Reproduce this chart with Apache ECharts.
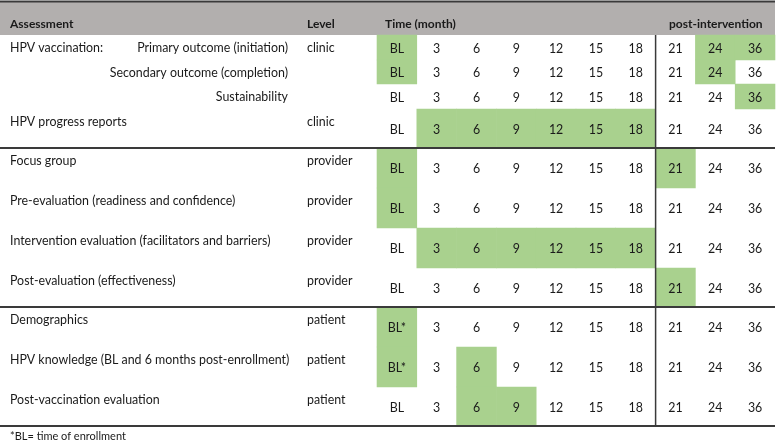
<!DOCTYPE html>
<html>
<head>
<meta charset="utf-8">
<script src="https://cdn.jsdelivr.net/npm/echarts@6/dist/echarts.min.js"></script>
<style>html,body{margin:0;padding:0;background:#fff}#c{width:777px;height:443px}</style>
</head>
<body>
<div id="c"></div>
<script>
// ---- data ----
const timepoints = ['BL', '3', '6', '9', '12', '15', '18', '21', '24', '36'];
const rowNames = ['HPV vaccination:', '', '', 'HPV progress reports', 'Focus group',
  'Pre-evaluation (readiness and confidence)', 'Intervention evaluation (facilitators and barriers)',
  'Post-evaluation (effectiveness)', 'Demographics', 'HPV knowledge (BL and 6 months post-enrollment)',
  'Post-vaccination evaluation'];
const rowSubNames = ['Primary outcome (initiation)', 'Secondary outcome (completion)', 'Sustainability',
  '', '', '', '', '', '', '', ''];
const rowLevels = ['clinic', '', '', 'clinic', 'provider', 'provider', 'provider', 'provider',
  'patient', 'patient', 'patient'];
const blLabels = ['BL', 'BL', 'BL', 'BL', 'BL', 'BL', 'BL', 'BL', 'BL*', 'BL*', 'BL'];
const activity = [
  [1, 0, 0, 0, 0, 0, 0, 0, 1, 1],
  [1, 0, 0, 0, 0, 0, 0, 0, 1, 0],
  [0, 0, 0, 0, 0, 0, 0, 0, 0, 1],
  [0, 1, 1, 1, 1, 1, 1, 0, 0, 0],
  [1, 0, 0, 0, 0, 0, 0, 1, 0, 0],
  [1, 0, 0, 0, 0, 0, 0, 0, 0, 0],
  [0, 1, 1, 1, 1, 1, 1, 0, 0, 0],
  [0, 0, 0, 0, 0, 0, 0, 1, 0, 0],
  [1, 0, 0, 0, 0, 0, 0, 0, 0, 0],
  [1, 0, 1, 0, 0, 0, 0, 0, 0, 0],
  [0, 0, 1, 1, 0, 0, 0, 0, 0, 0]
];
const groupEnds = [3, 7, 10];
const headers = ['Assessment', 'Level', 'Time (month)', 'post-intervention'];
const footnote = '*BL= time of enrollment';

// ---- layout ----
const rowHeights = [25, 24, 25, 39, 40, 40, 40, 39, 40, 40, 39];
const rowTops = [];
let acc = 0;
rowHeights.forEach(h => { rowTops.push(acc); acc += h; });
const totalH = acc;
const FONT = 'Lato';
const TXT = '#1a1a1a';
const GREEN = '#a9d18e';
const LINE = '#3a3a3a';
const BODY = '12.4px ' + FONT;

const cellData = [];
activity.forEach((r, ri) => r.forEach((v, ci) => cellData.push([ci, ri, v])));
const rowData = rowNames.map((n, i) => [0, i]);

const chart = echarts.init(document.getElementById('c'), null, {renderer: 'canvas'});
chart.setOption({
  animation: false,
  backgroundColor: '#fff',
  grid: {left: 377, right: 2, top: 35, height: totalH},
  xAxis: {type: 'category', data: timepoints, show: false, boundaryGap: true},
  yAxis: {type: 'value', min: 0, max: totalH, inverse: true, show: false},
  graphic: [
    {type: 'rect', shape: {x: 0, y: 2, width: 775, height: 33}, style: {fill: '#b2afae'}, z: 0},
    {type: 'line', shape: {x1: 0, y1: 1.5, x2: 775, y2: 1.5}, style: {stroke: LINE, lineWidth: 2}},
    {type: 'text', x: 10, y: 24, style: {text: headers[0], font: 'bold 12px ' + FONT, fill: TXT, verticalAlign: 'middle'}},
    {type: 'text', x: 307, y: 24, style: {text: headers[1], font: 'bold 12px ' + FONT, fill: TXT, verticalAlign: 'middle'}},
    {type: 'text', x: 385, y: 24, style: {text: headers[2], font: 'bold 12px ' + FONT, fill: TXT, verticalAlign: 'middle'}},
    {type: 'text', x: 669, y: 24, style: {text: headers[3], font: 'bold 12px ' + FONT, fill: TXT, verticalAlign: 'middle'}},
    {type: 'text', x: 10, y: 436, style: {text: footnote, font: '11px ' + FONT, fill: TXT, verticalAlign: 'middle'}}
  ],
  series: [
    {
      type: 'custom',
      clip: false,
      data: cellData,
      renderItem: function (params, api) {
        const ci = api.value(0), ri = api.value(1), on = api.value(2);
        const bw = api.size([1, 0])[0];
        const cx = api.coord([ci, 0])[0];
        const y0 = api.coord([ci, rowTops[ri]])[1];
        const y1 = api.coord([ci, rowTops[ri] + rowHeights[ri]])[1];
        const children = [];
        if (on) {
          children.push({type: 'rect', shape: {x: cx - bw / 2 - 0.3, y: y0 - 0.3, width: bw + 0.6, height: y1 - y0 + 0.6},
            style: {fill: GREEN}, z2: 1});
        }
        const lbl = ci === 0 ? blLabels[ri] : timepoints[ci];
        children.push({type: 'text', x: cx, y: (y0 + y1) / 2 + 1, style: {text: lbl, font: BODY, fill: TXT,
          align: 'center', verticalAlign: 'middle'}, z2: 3});
        if (ci === 7) {
          const lx = cx - bw / 2;
          children.push({type: 'line', shape: {x1: lx, y1: y0, x2: lx, y2: y1}, style: {stroke: LINE, lineWidth: 1.5}, z2: 4});
        }
        return {type: 'group', children: children};
      }
    },
    {
      type: 'custom',
      clip: false,
      data: rowData,
      renderItem: function (params, api) {
        const ri = api.value(1);
        const y0 = api.coord([0, rowTops[ri]])[1];
        const y1 = api.coord([0, rowTops[ri] + rowHeights[ri]])[1];
        const ty = y0 + 13;
        const children = [];
        if (rowNames[ri]) children.push({type: 'text', x: 10, y: ty, style: {text: rowNames[ri], font: BODY, fill: TXT, verticalAlign: 'middle'}});
        if (rowSubNames[ri]) children.push({type: 'text', x: 288, y: ty, style: {text: rowSubNames[ri], font: BODY, fill: TXT, align: 'right', verticalAlign: 'middle'}});
        if (rowLevels[ri]) children.push({type: 'text', x: 307, y: ty, style: {text: rowLevels[ri], font: BODY, fill: TXT, verticalAlign: 'middle'}});
        if (groupEnds.indexOf(ri) >= 0) {
          children.push({type: 'line', shape: {x1: 0, y1: y1, x2: 775, y2: y1}, style: {stroke: LINE, lineWidth: 2}, z2: 5});
        }
        return {type: 'group', children: children};
      }
    }
  ]
});
</script>
</body>
</html>
